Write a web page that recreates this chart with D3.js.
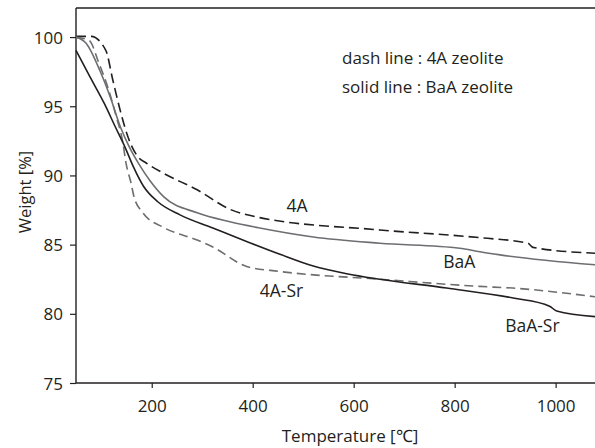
<!DOCTYPE html>
<html>
<head>
<meta charset="utf-8">
<script src="https://cdn.jsdelivr.net/npm/d3@7"></script>
<style>
  html, body { margin: 0; padding: 0; background: #fff; }
  svg { display: block; }
  text { font-family: "Open Sans", sans-serif; fill: #231f20; }
</style>
</head>
<body>
<svg id="chart" width="595" height="448"></svg>
<script>
// ---- Data ----
const xTicks = [200, 400, 600, 800, 1000];
const yTicks = [75, 80, 85, 90, 95, 100];

const tempA = [50, 80, 109, 123, 139, 153, 173, 189, 222, 290, 355, 414, 652, 850, 945, 955, 1078];
const wA    = [100.05, 100.05, 99.04, 96.88, 94.5, 92.77, 91.33, 90.9, 90.18, 88.96, 87.55, 86.95, 86.06, 85.5, 85.1, 84.8, 84.38];

const tempBaA = [50, 70, 97, 118, 138, 155, 175, 197, 224, 290, 355, 414, 520, 652, 810, 850, 890, 1078];
const wBaA    = [99.98, 99.55, 97.6, 95.65, 93.5, 92.1, 90.8, 89.6, 88.45, 87.3, 86.65, 86.2, 85.55, 85.1, 84.74, 84.48, 84.26, 83.54];

const tempASr = [50, 76, 95.5, 113, 129, 143, 149, 159, 165, 183, 222, 290, 321, 388, 454, 652, 850, 915, 1078];
const wASr    = [99.98, 99.76, 98.1, 96.37, 94.35, 92.33, 90.9, 89.45, 88.44, 87.28, 86.27, 85.33, 84.83, 83.42, 83.06, 82.5, 81.98, 81.86, 81.23];

const tempBaSr = [50, 78, 106, 128, 147, 164, 184, 212, 256, 321, 394, 454, 520, 586, 652, 784, 916, 988, 1002, 1078];
const wBaSr    = [99.04, 97.1, 95.2, 93.5, 92.05, 90.6, 89.2, 88.1, 87.15, 86.2, 85.14, 84.3, 83.45, 82.9, 82.5, 81.86, 81.14, 80.55, 80.2, 79.8];

const seriesNames = ["4A", "BaA", "4A-Sr", "BaA-Sr"];
const legendLines = ["dash line : 4A zeolite", "solid line : BaA zeolite"];

// ---- Layout ----
const svg = d3.select("#chart");
const mLeft = 76, mRight = 595, mTop = 8, mBottom = 383;
const x = d3.scaleLinear().domain([50, 1078]).range([mLeft, mRight]);
const y = d3.scaleLinear().domain([75, 102.1]).range([mBottom, mTop]);

const ink = "#231f20", grey = "#6d6e71";

// axes
const xAxis = svg.append("g").attr("transform", `translate(0,${mBottom})`)
  .call(d3.axisBottom(x).tickValues(xTicks).tickFormat(d3.format("d"))
    .tickSize(5).tickPadding(0).tickSizeOuter(0));
xAxis.selectAll("text").attr("dy", null).attr("y", 29).style("font-size", "17px");

const yAxis = svg.append("g").attr("transform", `translate(${mLeft},0)`)
  .call(d3.axisLeft(y).tickValues(yTicks).tickFormat(d3.format("d"))
    .tickSize(6).tickPadding(7).tickSizeOuter(0));
yAxis.selectAll("text").style("font-size", "17px").attr("dy", "0.36em");

svg.selectAll(".domain").attr("stroke", ink).attr("stroke-width", 1.4);
svg.selectAll(".tick line").attr("stroke", ink).attr("stroke-width", 1.2);
svg.selectAll(".tick text").attr("fill", ink);
xAxis.select(".domain").attr("d", `M${mLeft},0H${mRight}`);
yAxis.select(".domain").attr("d", `M0,${mTop}V${mBottom}`);

// top frame line
svg.append("line").attr("x1", mLeft).attr("x2", mRight).attr("y1", mTop).attr("y2", mTop)
  .attr("stroke", ink).attr("stroke-width", 1.4);

// curves
const line = d3.line().x(d => x(d[0])).y(d => y(d[1])).curve(d3.curveMonotoneX);
const zipS = (t, w) => t.map((v, i) => [v, w[i]]);
const curves = [
  { data: zipS(tempA, wA), color: ink, dash: "10,5" },
  { data: zipS(tempBaA, wBaA), color: grey, dash: null },
  { data: zipS(tempASr, wASr), color: grey, dash: "9,5" },
  { data: zipS(tempBaSr, wBaSr), color: ink, dash: null }
];
const plot = svg.append("g");
curves.forEach(c => {
  plot.append("path").attr("d", line(c.data)).attr("fill", "none")
    .attr("stroke", c.color).attr("stroke-width", 1.6)
    .attr("stroke-dasharray", c.dash);
});

// series labels (anchored at data coordinates)
const labelPos = [[488, 87.36], [809, 83.32], [457, 81.23], [954, 78.71]];
seriesNames.forEach((n, i) => {
  svg.append("text").attr("x", x(labelPos[i][0])).attr("y", y(labelPos[i][1]))
    .attr("text-anchor", "middle").style("font-size", "17.5px").text(n);
});

// legend
legendLines.forEach((t, i) => {
  svg.append("text").attr("x", 342).attr("y", 64 + i * 29)
    .style("font-size", "17px").text(t);
});

// axis titles
svg.append("text").attr("x", 350).attr("y", 442).attr("text-anchor", "middle")
  .style("font-size", "17px").text("Temperature [℃]");
svg.append("text").attr("transform", "translate(31,192) rotate(-90)")
  .attr("text-anchor", "middle").style("font-size", "16.5px").text("Weight [%]");
</script>
</body>
</html>
